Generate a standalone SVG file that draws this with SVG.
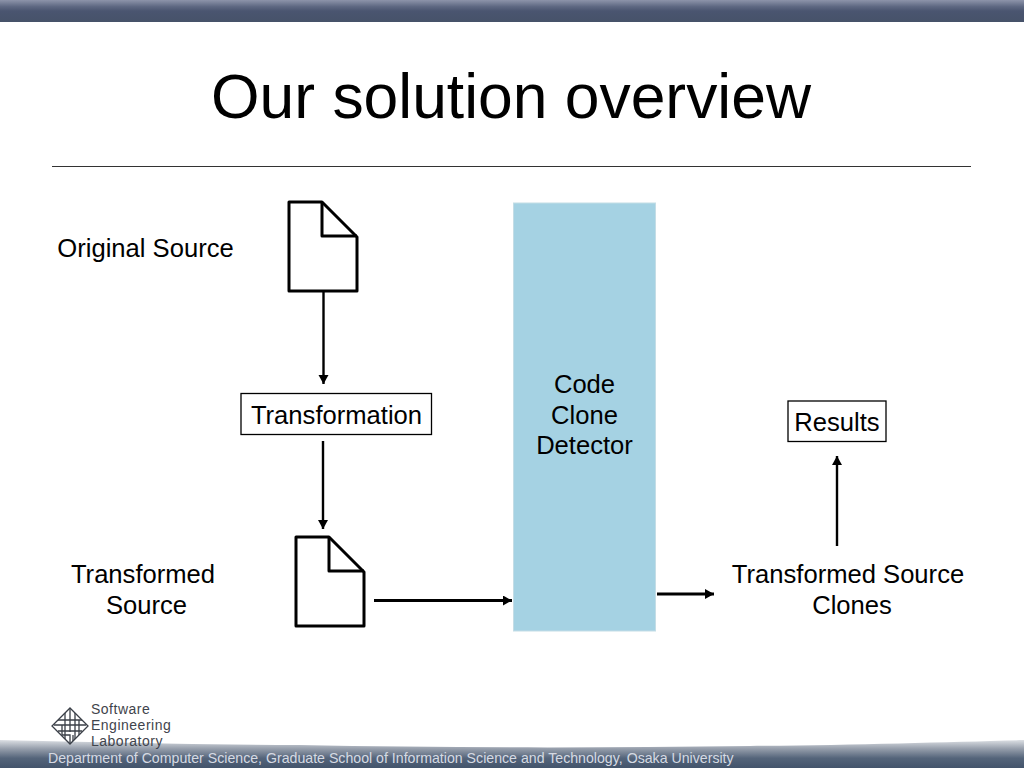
<svg xmlns="http://www.w3.org/2000/svg" width="1024" height="768" viewBox="0 0 1024 768">
<style>
text{font-family:"Liberation Sans",Arial,sans-serif;fill:#000}
.l{font-size:25.6px;text-anchor:middle}
.doc{fill:#fff;stroke:#000;stroke-width:3;stroke-linejoin:round}
.fold{fill:none;stroke:#000;stroke-width:3;stroke-linejoin:round}
.box{fill:#fff;stroke:#000;stroke-width:1.3}
.c{fill:none;stroke:#000;stroke-width:2.4}
.c3{fill:none;stroke:#000;stroke-width:2.8}
.logo{fill:none;stroke:#3a3f47;stroke-width:1.300}
.lt{font-size:14px;letter-spacing:0.5px;fill:#3f444c}
</style>
<defs>
<linearGradient id="top" x1="0" y1="0" x2="0" y2="1"><stop offset="0" stop-color="#8d94aa"/><stop offset="0.3" stop-color="#5e6882"/><stop offset="0.5" stop-color="#4a5570"/><stop offset="1" stop-color="#465269"/></linearGradient>
<linearGradient id="bot" gradientUnits="userSpaceOnUse" x1="0" y1="740" x2="0" y2="768"><stop offset="0" stop-color="#dcdfe4"/><stop offset="0.3" stop-color="#98a0ad"/><stop offset="0.65" stop-color="#54647a"/><stop offset="1" stop-color="#43546b"/></linearGradient>
<marker id="a" markerUnits="userSpaceOnUse" markerWidth="11" markerHeight="11" refX="9" refY="5" orient="auto"><path d="M0 0L9 5L0 10Z" fill="#000"/></marker>
</defs>
<rect width="1024" height="768" fill="#fff"/>
<rect id="top-band" width="1024" height="22" fill="url(#top)"/>
<path id="bottom-band" d="M0 740C100 742 200 745 300 745C450 748 600 748 750 746C850 745 950 742 1024 740V768H0Z" fill="url(#bot)"/>
<text x="511" y="118" font-size="62.400" text-anchor="middle">Our solution overview</text>
<line x1="52" y1="166.500" x2="971" y2="166.500" stroke="#333" stroke-width="1"/>
<g id="connectors">
<path class="c" d="M323.500 291V384" marker-end="url(#a)"/>
<path class="c" d="M323 441V529" marker-end="url(#a)"/>
<path class="c3" d="M374 600.500H512" marker-end="url(#a)"/>
<path class="c3" d="M657 594H714" marker-end="url(#a)"/>
<path class="c" d="M837 546V456" marker-end="url(#a)"/>
</g>
<g id="original-doc"><path class="doc" d="M289 202H322L357 237V291H289Z"/><path class="fold" d="M322 202V236H357"/></g>
<g id="transformed-doc"><path class="doc" d="M296 537H329L364 572V626H296Z"/><path class="fold" d="M329 537V571H364"/></g>
<g id="detector"><rect x="513.500" y="203" width="142" height="428" fill="#a5d2e3" stroke="#c4dde6" stroke-width="1"/>
<text class="l" x="584.500" y="393">Code</text><text class="l" x="584.500" y="424">Clone</text><text class="l" x="584.500" y="454">Detector</text></g>
<g id="transformation"><rect class="box" x="241" y="393.500" width="190.500" height="41"/><text class="l" x="336.500" y="424">Transformation</text></g>
<g id="results"><rect class="box" x="788" y="401" width="98" height="40.500"/><text class="l" x="837" y="431">Results</text></g>
<g id="label-original"><text class="l" x="145.500" y="257">Original Source</text></g>
<g id="label-transformed"><text class="l" x="143" y="583">Transformed</text><text class="l" x="146.500" y="614">Source</text></g>
<g id="label-clones"><text class="l" x="848" y="583">Transformed Source</text><text class="l" x="852" y="614">Clones</text></g>
<g id="logo">
<path class="logo" d="M70 708L88 726L70 744L52 726Z"/>
<path class="logo" d="M65 713V739M70 708V732M75 713V739M58 720H82M54 725H86M58 731H82M70 720H79V735M62 725V735H70V744M73 735V741"/>
<text class="lt" x="91" y="714">Software</text><text class="lt" x="91" y="730">Engineering</text><text class="lt" x="91" y="746">Laboratory</text>
</g>
<text x="48" y="763" font-size="14.170" style="fill:#d5dae3">Department of Computer Science, Graduate School of Information Science and Technology, Osaka University</text>
</svg>
